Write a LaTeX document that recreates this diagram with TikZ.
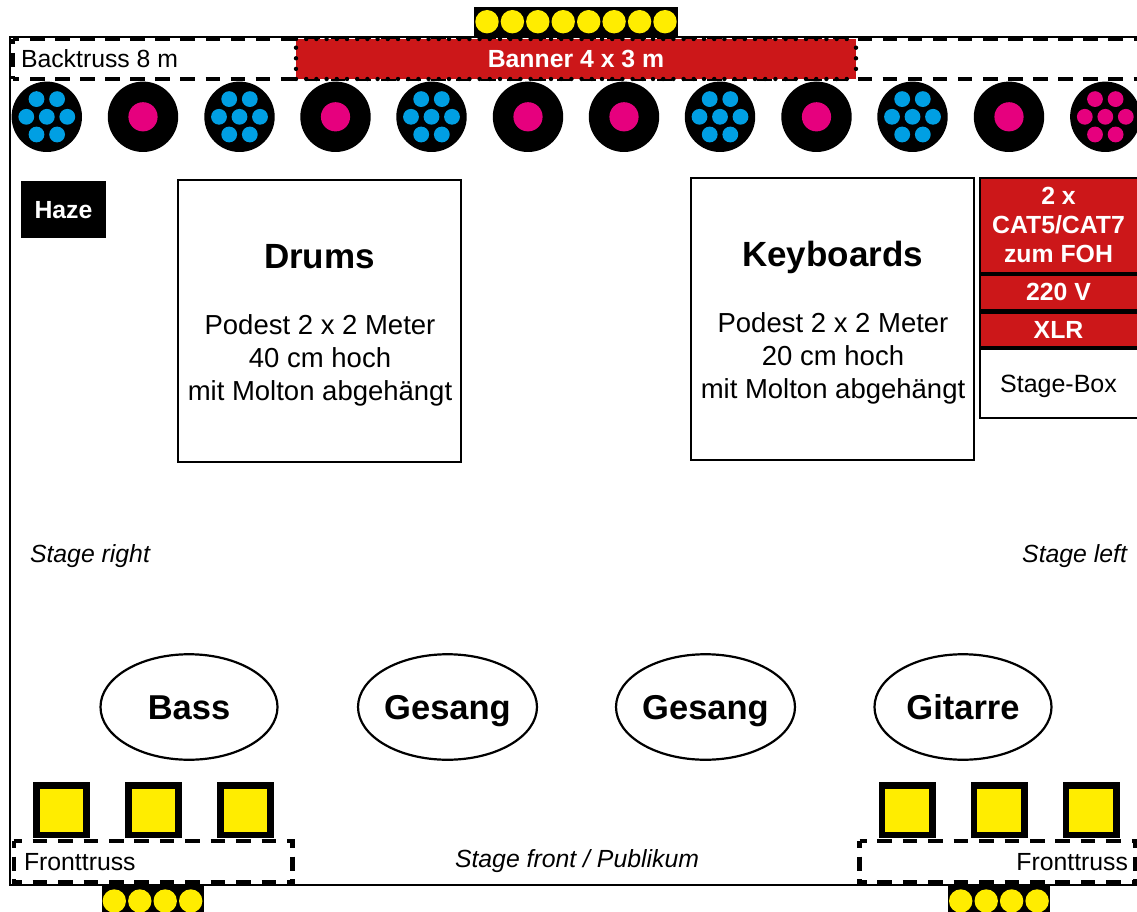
\documentclass[tikz,border=0pt]{standalone}
\usepackage{fontspec}
\setmainfont{Liberation Sans}
\usetikzlibrary{shapes.geometric}
\definecolor{bannerred}{HTML}{CC1719}
\definecolor{ledblue}{HTML}{009FE3}
\definecolor{ledpink}{HTML}{E6007E}
\definecolor{ledyellow}{HTML}{FFED00}
\newcommand{\fs}[1]{\fontsize{#1}{#1}\selectfont}
\tikzset{
  x=1pt,y=-1pt,
  lbl/.style={inner sep=0pt,outer sep=0pt,text=black},
  boxed/.style={draw=black,line width=2.2pt,fill=white},
  redbox/.style={draw=black,line width=2.6pt,fill=bannerred},
  trussline/.style={draw=black,line width=4.4pt},
  backh/.style={trussline,dash pattern=on 14.5pt off 10.58pt,dash phase=7.58pt},
  backv/.style={trussline,dash pattern=on 14pt off 9pt,dash phase=9pt},
  frontlh/.style={trussline,dash pattern=on 14.6pt off 10.83pt,dash phase=6.2pt},
  frontrh/.style={trussline,dash pattern=on 14.6pt off 10.84pt,dash phase=7.6pt},
  frontv/.style={trussline,dash pattern=on 14pt off 8.5pt,dash phase=7pt},
  dotted line/.style={draw=black,line width=4.4pt,line cap=round,dash pattern=on 0pt off 10.2pt},
  whitebold/.style={lbl,text=white,font=\fs{24.8}\bfseries,align=center},
  musician/.style={ellipse,draw=black,line width=2.2pt,fill=white,minimum width=177pt,minimum height=105.5pt,inner sep=0pt,font=\fs{34.5}\bfseries,text height=24.7pt,text depth=0pt},
}
\newcommand{\wash}[1]{%
  \fill[black] (#1,116.8) circle[radius=35.2];
  \fill[ledpink] (#1,116.8) circle[radius=14.6];}
\newcommand{\sevenled}[2]{%
  \fill[black] (#1,116.8) circle[radius=35.2];
  \foreach \dx/\dy in {0/0,-20.5/0,20.5/0,-10.3/-17.7,10.3/-17.7,-10.3/17.7,10.3/17.7}
    \fill[#2] ({#1+\dx},{116.8+\dy}) circle[radius=7.9];}
\newcommand{\parled}[1]{%
  \fill[black] ({#1-28.5},782) rectangle ({#1+28.5},838);
  \fill[ledyellow] ({#1-21.7},789) rectangle ({#1+21.7},832);}
\begin{document}
\begin{tikzpicture}
\useasboundingbox (0,0) rectangle (1137,912);
\fill[white] (0,0) rectangle (1137,912);
% stage outline
\draw[black,line width=2.2pt] (1137,37) -- (10,37) -- (10,885) -- (1137,885);
% top strip of lamps
\fill[black] (474,7) rectangle (678,37);
\foreach \x in {487,512.4,537.8,563.2,588.7,614.1,639.6,665}
  \fill[ledyellow] (\x,21.7) circle[radius=11.7];
% back truss
\fill[white] (12.5,39) rectangle (1137,79);
\draw[backh] (12.5,39) -- (1137,39);
\draw[backh] (12.5,79) -- (1137,79);
\draw[backv] (12.5,39) -- (12.5,79);
\node[lbl,anchor=base west,font=\fs{24.8}] (backtruss) at (21,68) {Backtruss 8 m};
% banner
\fill[bannerred] (296,39) rectangle (856,79);
\draw[dotted line] (296,39) -- (856,39);
\draw[dotted line] (296,79) -- (856,79);
\draw[dotted line,dash pattern=on 0pt off 10.6pt] (296,47.7) -- (296,70);
\draw[dotted line,dash pattern=on 0pt off 10.6pt] (856,47.7) -- (856,70);
\node[lbl,anchor=base,font=\fs{24.8}\bfseries,text=white] (banner) at (576,68) {Banner 4 x 3 m};
% lamps row
\sevenled{46.8}{ledblue}
\wash{143}
\sevenled{239.5}{ledblue}
\wash{335.5}
\sevenled{431.5}{ledblue}
\wash{528}
\wash{624}
\sevenled{720}{ledblue}
\wash{816.5}
\sevenled{912.5}{ledblue}
\wash{1009}
\sevenled{1105.3}{ledpink}
% haze
\fill[black] (21,181) rectangle (105.5,237.5);
\node[lbl,text=white,font=\fs{24.8}\bfseries] (haze) at (63.5,210) {Haze};
% risers
\draw[boxed] (178,180) rectangle (461,462);
\node[lbl,anchor=base,font=\fs{35}\bfseries] (drums) at (319.5,268) {Drums};
\node[lbl,align=center,font=\fs{27.5}] (drumstext) at (320,360) {Podest 2 x 2 Meter\\[5.5pt]40 cm hoch\\[5.5pt]mit Molton abgehängt};
\draw[boxed] (691,178) rectangle (974,460);
\node[lbl,anchor=base,font=\fs{35}\bfseries] (keys) at (832.5,266) {Keyboards};
\node[lbl,align=center,font=\fs{27.5}] (keystext) at (833,358) {Podest 2 x 2 Meter\\[5.5pt]20 cm hoch\\[5.5pt]mit Molton abgehängt};
% stage box
\draw[redbox] (980,178) rectangle (1140,273);
\node[whitebold] (cat) at (1058.5,225) {2 x\\[4.5pt]CAT5/CAT7\\[4.5pt]zum FOH};
\draw[redbox] (980,275) rectangle (1140,310);
\node[whitebold] (v220) at (1058.5,292) {220 V};
\draw[redbox] (980,312.5) rectangle (1140,347.5);
\node[whitebold] (xlr) at (1058.5,329.5) {XLR};
\draw[boxed] (980,348.5) rectangle (1140,418);
\node[lbl,font=\fs{25}] (stagebox) at (1058.5,386) {Stage-Box};
% stage labels
\node[lbl,anchor=base west,font=\fs{24.8}\itshape] (sr) at (30,562) {Stage right};
\node[lbl,anchor=base east,font=\fs{24.8}\itshape] (sl) at (1127,562) {Stage left};
\node[lbl,anchor=base,font=\fs{24.8}\itshape] (sf) at (577,867) {Stage front / Publikum};
% musicians
\foreach \nm/\x/\t in {bass/189/Bass,gesangl/447.5/Gesang,gesangr/705.5/Gesang,gitarre/963/Gitarre}
  \node[musician] (\nm) at (\x,707) {\t};
% front lamps
\parled{61.5}\parled{153.5}\parled{245.5}
\parled{907}\parled{999}\parled{1091}
% front trusses
\fill[white] (13.5,841) rectangle (292.5,882.5);
\draw[frontlh] (13.5,841) -- (294.7,841);
\draw[frontlh] (13.5,882.5) -- (294.7,882.5);
\draw[frontv] (14,841) -- (14,884.7);
\draw[frontv] (292.5,841) -- (292.5,884.7);
\fill[white] (859.5,841) rectangle (1137,882.5);
\draw[frontrh] (859.5,841) -- (1137,841);
\draw[frontrh] (859.5,882.5) -- (1137,882.5);
\draw[frontv] (859.5,841) -- (859.5,884.7);
\draw[frontv] (1135,841) -- (1135,884.7);
\node[lbl,anchor=base west,font=\fs{24.8}] (ftl) at (24,870.5) {Fronttruss};
\node[lbl,anchor=base east,font=\fs{24.8}] (ftr) at (1128,870.5) {Fronttruss};
% bottom lamp strips
\fill[black] (102,886) rectangle (203.5,912);
\foreach \x in {114.3,139.8,165.2,190.7}
  \fill[ledyellow] (\x,901) circle[radius=11.7];
\fill[black] (948,886) rectangle (1049.5,912);
\foreach \x in {960.7,986.2,1011.6,1037.1}
  \fill[ledyellow] (\x,901) circle[radius=11.7];
\end{tikzpicture}
\end{document}
